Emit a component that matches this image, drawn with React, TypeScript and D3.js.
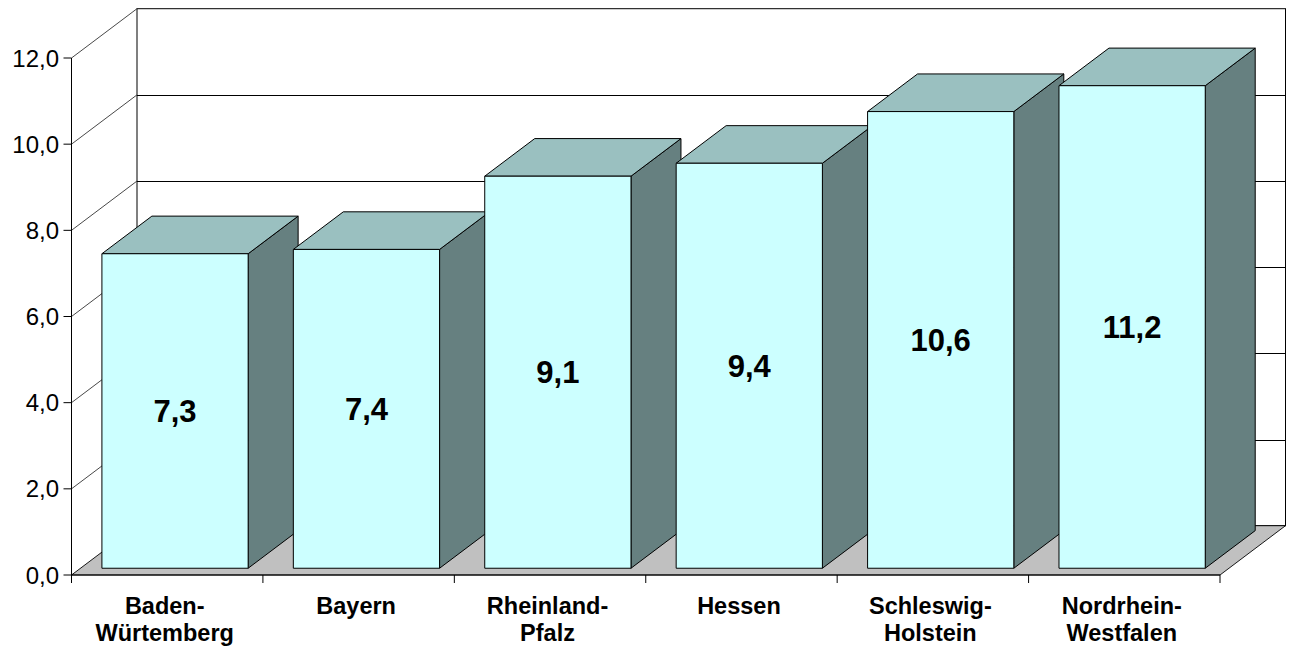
import React from "react";
import * as d3 from "d3";

// Unemployment-style rate per German state (3D column chart)
const categories = [
  "Baden-\nWürtemberg",
  "Bayern",
  "Rheinland-\nPfalz",
  "Hessen",
  "Schleswig-\nHolstein",
  "Nordrhein-\nWestfalen",
];
const values = [7.3, 7.4, 9.1, 9.4, 10.6, 11.2];
const yTicks = [0, 2, 4, 6, 8, 10, 12];

const W = 1293;
const H = 651;

// plot geometry (front plane and depth vector of the floor)
const X0 = 71.5;
const X1 = 1220;
const Y0 = 575;
const Y1 = 58;
const DX = 65.5;
const DY = -49.3;
// bar depth extent, as fractions of the floor depth
const Z0 = 0.137;
const Z1 = 0.9;

const FONT = "'Liberation Sans', Arial, sans-serif";

const de = d3.formatLocale({
  decimal: ",",
  thousands: ".",
  grouping: [3],
  currency: ["", " €"],
});
const fmt = de.format(".1f");

export default function App() {
  const x = d3.scaleBand<string>().domain(categories).range([X0, X1]).padding(0);
  const y = d3.scaleLinear().domain([0, 12]).range([Y0, Y1]);
  const bw = x.bandwidth();

  const pt = (px: number, py: number, z: number) => [px + z * DX, py + z * DY];
  const poly = (pts: number[][]) => pts.map((p) => p.join(",")).join(" ");

  const backLeft = X0 + DX;
  const backRight = X1 + DX;

  return (
    <svg
      width={W}
      height={H}
      style={{ position: "absolute", left: 0, top: 0, display: "block", background: "#fff" }}
      fontFamily={FONT}
    >
      {/* back wall */}
      <rect
        x={backLeft}
        y={y(12) + DY}
        width={backRight - backLeft}
        height={y(0) - y(12)}
        fill="#fff"
        stroke="#000"
        strokeWidth={1}
      />
      {/* back wall gridlines */}
      {yTicks.slice(1, -1).map((t) => (
        <line
          key={"bg" + t}
          x1={backLeft}
          x2={backRight}
          y1={Math.round(y(t) + DY) + 0.5}
          y2={Math.round(y(t) + DY) + 0.5}
          stroke="#000"
          strokeWidth={1}
        />
      ))}
      {/* side wall gridlines */}
      {yTicks.slice(1).map((t) => (
        <line
          key={"sg" + t}
          x1={X0}
          y1={y(t)}
          x2={X0 + DX}
          y2={y(t) + DY}
          stroke="#333"
          strokeWidth={0.9}
        />
      ))}
      {/* floor */}
      <polygon
        points={poly([
          [X0, Y0],
          [X1, Y0],
          [X1 + DX, Y0 + DY],
          [X0 + DX, Y0 + DY],
        ])}
        fill="#C0C0C0"
        stroke="#000"
        strokeWidth={0.9}
      />

      {/* bars */}
      {categories.map((c, i) => {
        const left = (x(c) as number) + bw * 0.112;
        const right = left + bw * 0.764;
        const top = y(values[i]);
        const bottom = y(0);
        const fl = pt(left, top, Z0);
        const fr = pt(right, top, Z0);
        const flb = pt(left, bottom, Z0);
        const frb = pt(right, bottom, Z0);
        const bl = pt(left, top, Z1);
        const br = pt(right, top, Z1);
        const brb = pt(right, bottom, Z1);
        return (
          <g key={c} stroke="#000" strokeWidth={1} strokeLinejoin="round">
            <polygon points={poly([fr, br, brb, frb])} fill="#668080" />
            <polygon points={poly([fl, bl, br, fr])} fill="#9AC0C0" />
            <polygon points={poly([fl, fr, frb, flb])} fill="#CCFFFF" />
            <text
              x={(fl[0] + fr[0]) / 2}
              y={(fl[1] + flb[1]) / 2}
              dy="0.36em"
              textAnchor="middle"
              fontSize={31}
              fontWeight="bold"
              fill="#000"
              stroke="none"
            >
              {values[i].toFixed(1).replace(".", ",")}
            </text>
          </g>
        );
      })}

      {/* value axis */}
      <line x1={X0} x2={X0} y1={Y1} y2={Y0 + 8} stroke="#000" strokeWidth={1} />
      {yTicks.map((t) => (
        <g key={"yt" + t}>
          <line x1={X0 - 8} x2={X0} y1={y(t)} y2={y(t)} stroke="#000" strokeWidth={1} />
          <text
            x={59}
            y={y(t)}
            dy="0.36em"
            textAnchor="end"
            fontSize={24}
            fill="#000"
          >
            {fmt(t)}
          </text>
        </g>
      ))}

      {/* category axis */}
      <line x1={X0} x2={X1} y1={Y0} y2={Y0} stroke="#000" strokeWidth={1} />
      {d3.range(categories.length + 1).map((k) => (
        <line
          key={"xt" + k}
          x1={X0 + k * bw}
          x2={X0 + k * bw}
          y1={Y0}
          y2={Y0 + 8}
          stroke="#000"
          strokeWidth={1}
        />
      ))}
      {categories.map((c) => {
        const cx = (x(c) as number) + bw / 2 - 2.5;
        const lines = c.split("\n");
        return (
          <text
            key={"lab" + c}
            x={cx}
            y={613.5}
            textAnchor="middle"
            fontSize={23.5}
            fontWeight="bold"
            fill="#000"
          >
            {lines.map((ln, j) => (
              <tspan key={j} x={cx} dy={j === 0 ? 0 : 27.7}>
                {ln}
              </tspan>
            ))}
          </text>
        );
      })}
    </svg>
  );
}
